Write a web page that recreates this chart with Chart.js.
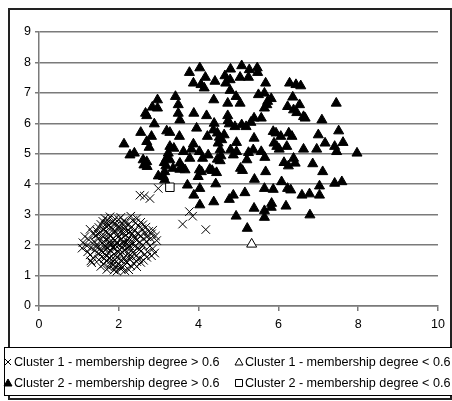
<!DOCTYPE html>
<html>
<head>
<meta charset="utf-8">
<script src="https://cdn.jsdelivr.net/npm/chart.js@4/dist/chart.umd.min.js"></script>
<style>
  html, body { margin: 0; padding: 0; background: #fff; }
  #wrap { width: 452px; height: 401px; position: relative; }
</style>
</head>
<body>
<div id="wrap"><canvas id="grafico" width="452" height="401"></canvas></div>
<script>
// Cluster 1, membership degree > 0.6  (x, y)
const cluster1Alto = [
    [1.65,2.88],[1.78,2.93],[1.9,2.86],[2.05,2.91],[2.3,2.95],[2.45,2.87],
    [1.6,2.78],[1.72,2.82],[1.85,2.76],[2.0,2.84],[2.12,2.79],[2.35,2.81],[2.55,2.75],
    [1.55,2.68],[1.7,2.72],[1.95,2.66],[2.08,2.71],[2.25,2.69],[2.42,2.73],[2.6,2.67],
    [1.5,2.58],[1.68,2.62],[1.82,2.57],[2.15,2.61],[2.3,2.56],[2.5,2.63],[2.68,2.59],
    [1.28,2.52],[1.45,2.47],[1.62,2.51],[1.9,2.48],[2.02,2.53],[2.2,2.46],[2.4,2.5],[2.58,2.54],[2.75,2.45],[2.85,2.49],
    [1.35,2.38],[1.55,2.42],[1.75,2.37],[1.88,2.41],[2.1,2.39],[2.28,2.43],[2.48,2.36],[2.65,2.4],[2.82,2.37],
    [1.15,2.28],[1.42,2.32],[1.6,2.27],[1.8,2.31],[1.98,2.26],[2.18,2.33],[2.38,2.29],[2.55,2.31],[2.7,2.27],[2.92,2.3],
    [1.25,2.18],[1.5,2.22],[1.7,2.17],[1.85,2.21],[2.05,2.19],[2.25,2.23],[2.45,2.16],[2.62,2.2],[2.8,2.22],
    [1.1,2.08],[1.38,2.12],[1.58,2.07],[1.78,2.11],[1.95,2.09],[2.12,2.13],[2.32,2.06],[2.52,2.1],[2.7,2.12],[2.95,2.15],
    [1.2,1.98],[1.45,2.02],[1.65,1.97],[1.82,2.01],[2.0,1.99],[2.2,2.03],[2.4,1.96],[2.6,2.0],[2.78,1.97],
    [1.08,1.9],[1.3,1.92],[1.52,1.87],[1.72,1.91],[1.9,1.88],[2.08,1.93],[2.28,1.89],[2.48,1.91],[2.85,1.88],
    [1.22,1.78],[1.4,1.82],[1.6,1.77],[1.8,1.81],[1.98,1.79],[2.15,1.83],[2.35,1.76],[2.55,1.8],[2.72,1.78],[2.9,1.74],
    [1.28,1.68],[1.5,1.72],[1.68,1.67],[1.88,1.71],[2.05,1.69],[2.25,1.73],[2.45,1.66],[2.65,1.7],[2.82,1.65],
    [1.35,1.58],[1.58,1.62],[1.75,1.57],[1.95,1.61],[2.12,1.59],[2.32,1.63],[2.5,1.56],[2.7,1.6],
    [1.3,1.48],[1.5,1.52],[1.7,1.47],[1.9,1.51],[2.08,1.49],[2.28,1.53],[2.45,1.46],[2.62,1.5],
    [1.32,1.42],[1.62,1.38],[1.8,1.41],[2.0,1.37],[2.2,1.42],[2.38,1.39],[2.55,1.43],
    [1.55,1.3],[1.75,1.27],[1.92,1.31],[2.1,1.28],[2.3,1.32],[2.45,1.29],
    [1.7,1.2],[1.88,1.18],[2.05,1.22],[2.25,1.19],[1.95,1.14],[2.15,1.16],
    // núcleo más denso
    [1.74,2.64],[1.87,2.69],[2.02,2.6],[2.18,2.74],[1.66,2.44],[1.97,2.35],[2.14,2.52],[2.34,2.38],
    [1.73,2.25],[1.9,2.16],[2.03,2.42],[2.21,2.14],[1.62,2.12],[1.76,2.02],[1.92,1.99],[2.1,2.06],
    [2.28,1.97],[1.68,1.86],[1.84,1.92],[2.02,1.85],[2.2,1.9],[1.56,1.8],[1.74,1.74],[1.92,1.66],
    [2.08,1.78],[2.26,1.64],[1.64,1.56],[1.82,1.52],[2.0,1.55],[2.18,1.47],[1.86,1.35],[2.04,1.3],
    [1.48,2.36],[1.43,1.95],[2.4,2.22],[2.52,1.86],
    // sueltos
    [2.53,3.64],[2.64,3.61],[2.78,3.53],[2.99,3.86],[3.77,3.10],[3.85,2.95],[3.60,2.69],[4.18,2.51]
];

// Cluster 1, membership degree < 0.6
const cluster1Bajo = [[5.33,2.03]];

// Cluster 2, membership degree > 0.6
const cluster2Alto = [
    [3.77,7.67],[4.03,7.82],[4.17,7.51],[3.87,7.32],[4.06,7.27],[4.14,7.16],[4.41,7.38],[4.66,7.56],
    [4.80,7.78],[4.79,7.43],[4.68,7.32],[5.08,7.89],[5.04,7.51],[5.27,7.76],[5.25,7.51],[5.47,7.82],
    [5.48,7.67],[5.68,7.32],[6.28,7.32],[6.44,7.27],[6.56,7.23],[4.79,7.08],[5.50,6.94],[5.65,6.99],
    [5.82,6.81],[5.73,6.72],[4.94,6.88],[5.04,6.66],[4.73,6.66],[4.38,6.77],[3.42,6.88],[3.49,6.61],
    [2.97,6.77],[2.97,6.50],[2.84,6.53],[2.67,6.33],[2.70,6.25],[3.49,6.33],[3.53,6.11],[3.88,6.33],
    [4.20,6.25],[2.89,5.98],[2.55,5.70],[4.73,6.25],[4.74,6.09],[4.77,5.98],[4.39,6.00],[4.37,5.78],
    [3.95,5.84],[3.20,5.75],[3.28,5.70],[3.52,5.57],[2.82,5.57],[2.70,5.40],[2.76,5.21],[2.13,5.32],
    [2.28,4.96],[2.39,5.02],[2.61,4.80],[2.70,4.74],[2.71,4.58],[2.63,4.63],[4.22,5.57],[4.47,5.68],
    [4.52,5.54],[4.58,5.46],[4.64,5.62],[4.49,5.35],[4.95,5.37],[4.91,5.89],[5.08,5.95],[5.19,5.89],
    [5.31,6.03],[5.39,6.17],[5.57,6.17],[5.65,6.50],[5.71,6.61],[5.39,5.51],[5.87,5.73],[5.94,5.68],
    [6.06,5.57],[6.26,5.68],[6.34,5.57],[5.89,5.35],[5.96,5.24],[6.02,5.15],[6.21,5.24],[6.23,6.55],
    [6.36,6.86],[6.38,6.44],[6.46,6.35],[6.53,6.61],[6.63,6.22],[6.67,6.17],[7.45,6.66],[7.09,6.11],
    [7.00,5.62],[7.51,5.75],[7.17,5.35],[7.41,5.24],[7.46,5.07],[7.62,5.37],[7.97,5.02],[6.96,5.15],
    [6.63,5.15],[6.38,4.85],[6.14,4.71],[6.25,4.60],[6.42,4.69],[6.86,4.67],[7.11,4.41],[7.03,3.94],
    [7.41,4.03],[7.59,4.08],[7.03,3.64],[6.78,3.68],[6.59,3.64],[6.79,2.99],[6.23,3.86],[6.31,3.81],
    [6.08,4.08],[6.19,3.28],[5.87,3.83],[5.83,3.37],[5.82,3.24],[5.65,3.86],[5.68,4.41],[5.66,4.88],
    [5.57,5.07],[5.37,5.13],[5.25,5.04],[5.21,4.80],[5.05,4.52],[5.10,4.45],[4.95,5.07],[4.87,4.96],
    [4.80,5.13],[5.40,4.16],[5.16,3.72],[4.87,3.64],[4.77,3.50],[4.94,2.95],[5.39,3.21],[5.65,3.13],
    [5.65,2.91],[5.22,2.55],[4.54,5.13],[4.56,4.93],[4.47,4.82],[4.54,4.77],[4.24,4.96],[4.10,4.85],
    [4.02,5.07],[3.82,5.15],[3.87,5.32],[3.78,4.85],[3.62,5.07],[3.53,4.69],[3.60,4.52],[3.66,4.47],
    [3.53,4.49],[3.36,4.52],[3.38,5.18],[3.28,5.24],[3.24,5.02],[3.20,4.85],[3.28,4.80],[3.14,4.71],
    [3.18,4.60],[3.15,4.41],[3.12,4.25],[2.99,4.27],[3.15,4.14],[4.02,4.47],[4.07,4.41],[3.99,4.25],
    [4.28,4.49],[4.34,4.45],[4.45,4.38],[4.43,4.01],[3.72,3.97],[4.03,3.86],[3.88,3.64],[4.03,3.32],
    [4.38,3.42]
];

// Cluster 2, membership degree < 0.6
const cluster2Bajo = [[3.28,3.90]];

const nombres = [
    "Cluster 1 - membership degree > 0.6",
    "Cluster 1 - membership degree < 0.6",
    "Cluster 2 - membership degree > 0.6",
    "Cluster 2 - membership degree < 0.6"
];

const ticksX = [0, 2, 4, 6, 8, 10];
const ticksY = [0, 1, 2, 3, 4, 5, 6, 7, 8, 9];

const fuente = "'Liberation Sans', Arial, sans-serif";
const gris = "#7a7a7a";

const aPuntos = arr => arr.map(p => ({ x: p[0], y: p[1] }));

// dibuja un marcador a mano para la leyenda
function marcador(ctx, tipo, x, y) {
    ctx.save();
    ctx.strokeStyle = "#000";
    ctx.lineWidth = 1;
    ctx.beginPath();
    if (tipo === 0) {
        ctx.moveTo(x - 3, y - 3); ctx.lineTo(x + 3, y + 3);
        ctx.moveTo(x + 3, y - 3); ctx.lineTo(x - 3, y + 3);
        ctx.stroke();
    } else if (tipo === 1 || tipo === 2) {
        ctx.moveTo(x, y - 4); ctx.lineTo(x + 4, y + 3); ctx.lineTo(x - 4, y + 3); ctx.closePath();
        ctx.fillStyle = tipo === 2 ? "#000" : "#fff";
        ctx.fill();
        ctx.stroke();
    } else {
        ctx.rect(x - 3.5, y - 3.5, 7, 7);
        ctx.fillStyle = "#fff";
        ctx.fill();
        ctx.stroke();
    }
    ctx.restore();
}

const marcoYLeyenda = {
    id: "marcoYLeyenda",
    afterDraw(chart) {
        const ctx = chart.ctx;
        ctx.save();
        // marco exterior
        ctx.strokeStyle = "#222";
        ctx.lineWidth = 2;
        ctx.strokeRect(9, 9, 442, 390);
        // caja de la leyenda
        ctx.fillStyle = "#fff";
        ctx.fillRect(4, 347, 448, 48);
        ctx.strokeStyle = "#000";
        ctx.lineWidth = 1;
        ctx.strokeRect(4.5, 347.5, 450, 48);

        ctx.font = "12.6px " + fuente;
        ctx.fillStyle = "#000";
        ctx.textBaseline = "middle";
        const pos = [[8, 362], [239, 362], [8, 383], [239, 383]];
        nombres.forEach((txt, i) => {
            marcador(ctx, i, pos[i][0], pos[i][1]);
            ctx.fillText(txt, pos[i][0] + 6, pos[i][1] + 1);
        });
        ctx.restore();
    }
};

new Chart(document.getElementById("grafico").getContext("2d"), {
    type: "scatter",
    data: {
        datasets: [
            {
                label: nombres[0],
                data: aPuntos(cluster1Alto),
                pointStyle: "crossRot",
                radius: 6,
                borderColor: "#000",
                backgroundColor: "#000",
                borderWidth: 1
            },
            {
                label: nombres[1],
                data: aPuntos(cluster1Bajo),
                pointStyle: "triangle",
                radius: 5.8,
                borderColor: "#000",
                backgroundColor: "#fff",
                borderWidth: 1
            },
            {
                label: nombres[2],
                data: aPuntos(cluster2Alto),
                pointStyle: "triangle",
                radius: 5.8,
                borderColor: "#000",
                backgroundColor: "#000",
                borderWidth: 1
            },
            {
                label: nombres[3],
                data: aPuntos(cluster2Bajo),
                pointStyle: "rect",
                radius: 6,
                borderColor: "#000",
                backgroundColor: "#fff",
                borderWidth: 1
            }
        ]
    },
    options: {
        responsive: false,
        animation: false,
        events: [],
        layout: { padding: { top: 32, right: 14, bottom: 65, left: 0 } },
        scales: {
            x: {
                type: "linear",
                min: 0,
                max: 10,
                afterFit: s => { s.height = 30; },
                afterBuildTicks: s => { s.ticks = ticksX.map(v => ({ value: v })); },
                ticks: { color: "#000", font: { family: fuente, size: 12.5 }, padding: 6, maxRotation: 0 },
                grid: { drawOnChartArea: false, color: gris, lineWidth: 1.5, tickLength: 5 },
                border: { color: gris, width: 1.5 }
            },
            y: {
                type: "linear",
                min: 0,
                max: 9,
                afterFit: s => { s.width = 39; },
                afterBuildTicks: s => { s.ticks = ticksY.map(v => ({ value: v })); },
                ticks: { color: "#000", font: { family: fuente, size: 12.5 }, padding: 4 },
                grid: { color: gris, lineWidth: 1.5, tickLength: 4 },
                border: { color: gris, width: 1.5 }
            }
        },
        plugins: {
            legend: { display: false },
            tooltip: { enabled: false }
        }
    },
    plugins: [marcoYLeyenda]
});
</script>
</body>
</html>
